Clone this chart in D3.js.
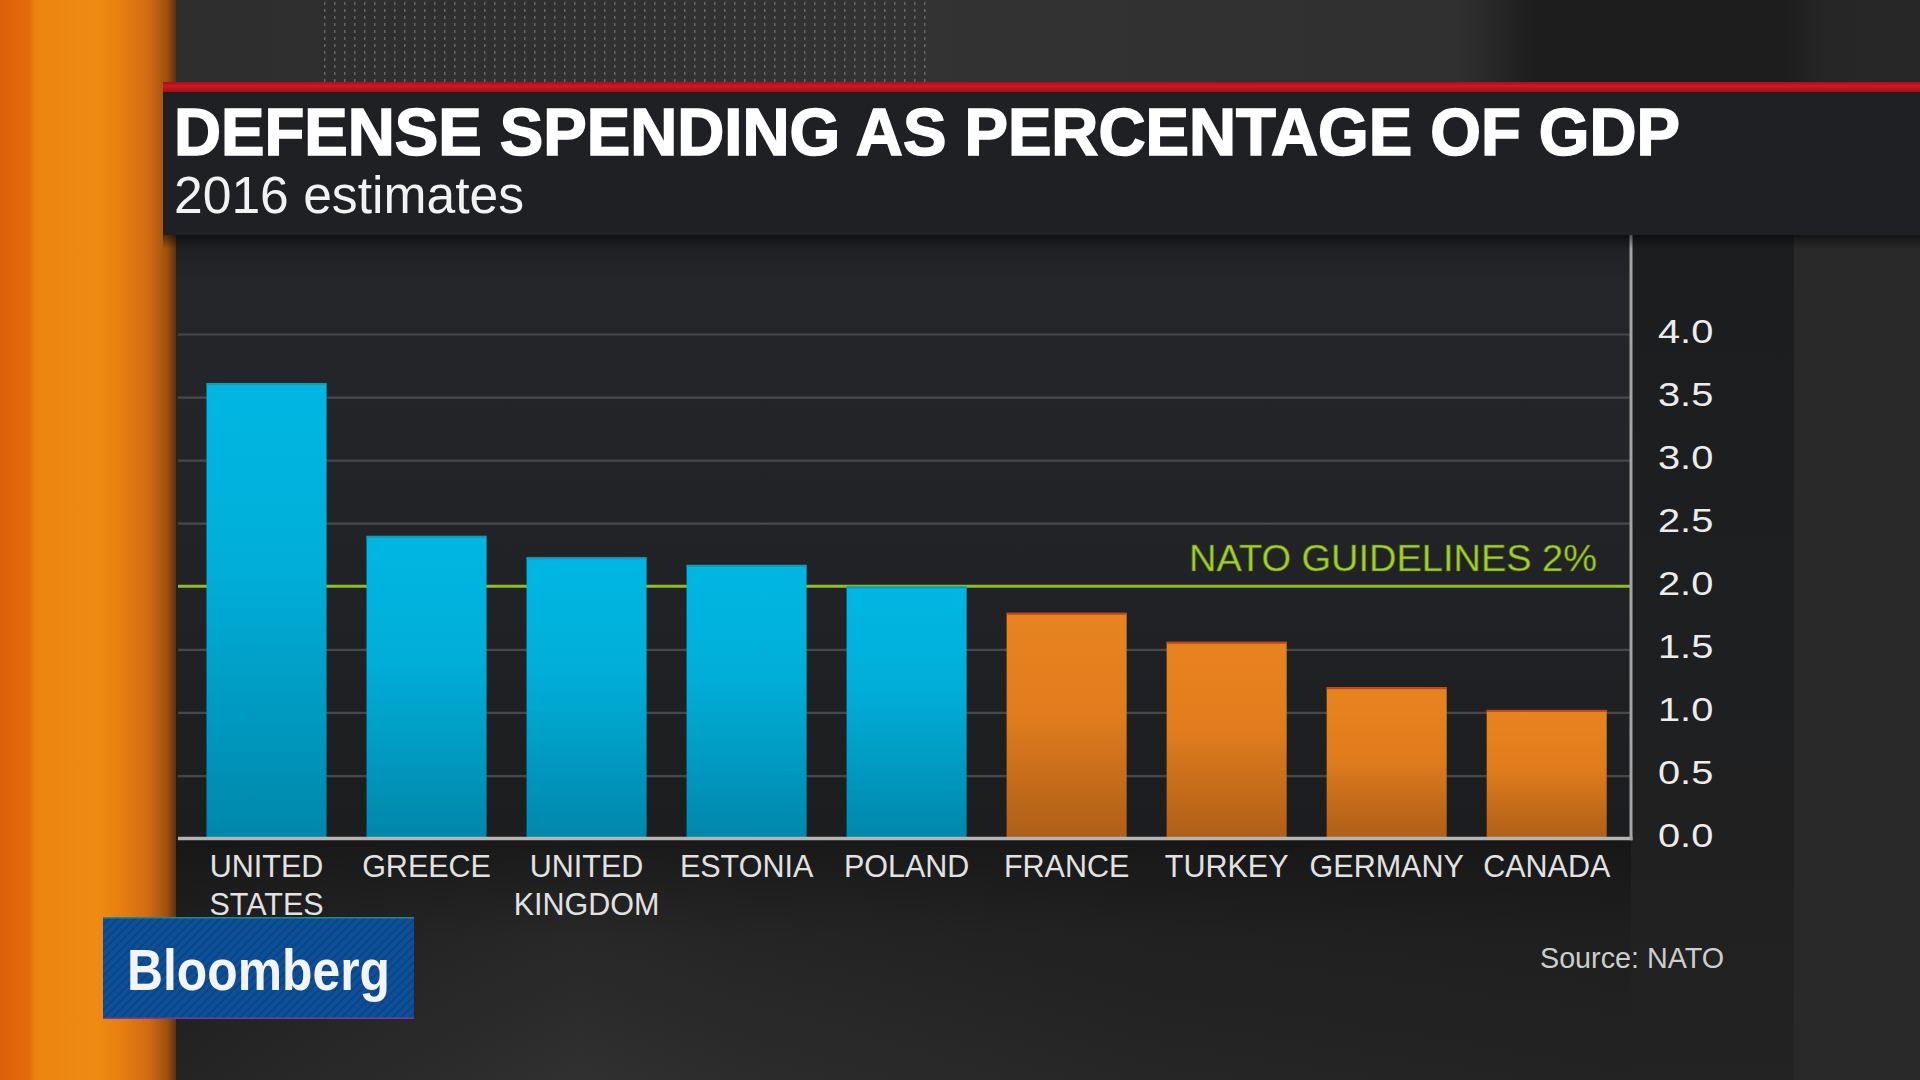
<!DOCTYPE html>
<html>
<head>
<meta charset="utf-8">
<script src="https://cdn.jsdelivr.net/npm/d3@7"></script>
<style>
  html, body { margin: 0; padding: 0; background: #252525; overflow: hidden; }
  svg { display: block; }
</style>
</head>
<body>
<svg id="chart" width="1920" height="1080"></svg>
<script>
// ---- data ----
const categories = ["UNITED STATES", "GREECE", "UNITED KINGDOM", "ESTONIA", "POLAND", "FRANCE", "TURKEY", "GERMANY", "CANADA"];
const values = [3.61, 2.40, 2.23, 2.17, 2.00, 1.79, 1.56, 1.20, 1.02];
const yTicks = [0, 0.5, 1.0, 1.5, 2.0, 2.5, 3.0, 3.5, 4.0];
const guideline = 2.0;
const guidelineLabel = "NATO GUIDELINES 2%";
const titleText = "DEFENSE SPENDING AS PERCENTAGE OF GDP";
const subtitleText = "2016 estimates";
const sourceText = "Source: NATO";
const logoText = "Bloomberg";

const data = categories.map((c, i) => ({ name: c, value: values[i] }));

const svg = d3.select("#chart");
const defs = svg.append("defs");

function lin(id, x1, y1, x2, y2, stops) {
  const g = defs.append("linearGradient").attr("id", id)
    .attr("x1", x1).attr("y1", y1).attr("x2", x2).attr("y2", y2);
  stops.forEach(s => g.append("stop").attr("offset", s[0]).attr("stop-color", s[1]));
}
lin("orangeStrip", 0, 0, 1, 0, [[0, "#dc5f0a"], [0.17, "#e56c0c"], [0.2, "#ec840f"], [0.55, "#ef8b12"], [0.7, "#e57d10"], [0.85, "#cf6a12"], [0.95, "#9c5010"], [1, "#5e300c"]]);
lin("topBg", 0, 0, 1, 0, [[0, "#2c2c2c"], [0.45, "#333333"], [0.76, "#303030"], [0.8, "#1d1d1d"], [0.93, "#1d1d1d"], [0.95, "#262626"], [1, "#272727"]]);
lin("panelBg", 0, 0, 0, 1, [[0, "#1e1f22"], [0.08, "#25262a"], [0.5, "#222326"], [1, "#1c1d1f"]]);
lin("tickBg", 0, 0, 0, 1, [[0, "#1c1d1f"], [0.5, "#1e1f21"], [0.75, "#202020"], [1, "#232323"]]);
lin("bottomBg", 0, 0, 1, 0, [[0, "#242424"], [0.15, "#2b2b2b"], [0.25, "#303030"], [0.35, "#2c2c2c"], [0.6, "#262626"], [1, "#222222"]]);
lin("bottomFade", 0, 0, 0, 1, [[0, "rgba(20,20,20,0.8)"], [0.4, "rgba(20,20,20,0.3)"], [1, "rgba(20,20,20,0)"]]);
lin("redBand", 0, 0, 0, 1, [[0, "#a80f18"], [0.4, "#cf1822"], [1, "#a30f17"]]);
lin("blueBar", 0, 0, 0, 1, [[0, "#00b6e2"], [0.4, "#00afd9"], [1, "#0087ab"]]);
lin("orangeBar", 0, 0, 0, 1, [[0, "#e8841f"], [0.45, "#e07c1d"], [1, "#ae5f18"]]);
lin("headerShadow", 0, 0, 0, 1, [[0, "rgba(0,0,0,0.5)"], [1, "rgba(0,0,0,0)"]]);

const dots = defs.append("pattern").attr("id", "dots").attr("patternUnits", "userSpaceOnUse")
  .attr("width", 10).attr("height", 7);
dots.append("rect").attr("x", 4).attr("y", 2).attr("width", 1.5).attr("height", 3).attr("fill", "rgba(200,200,200,0.35)");

const stripes = defs.append("pattern").attr("id", "stripes").attr("patternUnits", "userSpaceOnUse")
  .attr("width", 6).attr("height", 6).attr("patternTransform", "rotate(45)");
stripes.append("rect").attr("width", 6).attr("height", 6).attr("fill", "#0d5097");
stripes.append("rect").attr("width", 2).attr("height", 6).attr("fill", "#0a4486");

// ---- background ----
svg.append("rect").attr("width", 1920).attr("height", 1080).attr("fill", "#262626");
svg.append("rect").attr("x", 0).attr("y", 0).attr("width", 1920).attr("height", 84).attr("fill", "url(#topBg)");
svg.append("rect").attr("x", 322).attr("y", 0).attr("width", 607).attr("height", 82).attr("fill", "url(#dots)");
svg.append("rect").attr("x", 1794).attr("y", 235).attr("width", 126).attr("height", 845).attr("fill", "#292929");
svg.append("rect").attr("x", 175).attr("y", 840).attr("width", 1619).attr("height", 240).attr("fill", "url(#bottomBg)");
svg.append("rect").attr("x", 175).attr("y", 840).attr("width", 1619).attr("height", 240).attr("fill", "url(#bottomFade)");

// ---- scales ----
const x = d3.scaleBand().domain(categories).range([178, 1631])
  .paddingInner(0.25).paddingOuter(0.165).align(0.54);
const y = d3.scaleLinear().domain([0, 4]).range([838.6, 334]);
const [xLeft, xRight] = x.range();

// chart panel
svg.append("rect").attr("x", 175).attr("y", 235).attr("width", xRight - 175).attr("height", y(0) - 235).attr("fill", "url(#panelBg)");
svg.append("rect").attr("x", xRight).attr("y", 235).attr("width", 1794 - xRight).attr("height", 845).attr("fill", "url(#tickBg)");

// orange strip
svg.append("rect").attr("x", 0).attr("y", 0).attr("width", 176).attr("height", 1080).attr("fill", "url(#orangeStrip)");

// ---- gridlines ----
const grid = svg.append("g").attr("transform", `translate(${xRight},0)`)
  .call(d3.axisLeft(y).tickValues(yTicks.filter(t => t !== 0 && t !== guideline)).tickSize(xRight - xLeft).tickFormat(""));
grid.select(".domain").remove();
grid.selectAll(".tick line").attr("stroke", "#47484b").attr("stroke-width", 2.2);

// ---- guideline ----
svg.append("line").attr("x1", xLeft).attr("x2", xRight).attr("y1", y(guideline)).attr("y2", y(guideline))
  .attr("stroke", "#8fbe22").attr("stroke-width", 3);

// ---- bars ----
const bars = svg.append("g");
bars.selectAll("rect.bar").data(data).join("rect").attr("class", "bar")
  .attr("x", d => x(d.name)).attr("width", x.bandwidth())
  .attr("y", d => y(d.value)).attr("height", d => y(0) - y(d.value))
  .attr("fill", d => d.value >= guideline ? "url(#blueBar)" : "url(#orangeBar)");
bars.selectAll("rect.edge").data(data).join("rect").attr("class", "edge")
  .attr("x", d => x(d.name)).attr("width", x.bandwidth())
  .attr("y", d => y(d.value)).attr("height", 2)
  .attr("fill", d => d.value >= guideline ? "#139bb5" : "#c4451c");

// guideline label
svg.append("text").attr("x", 1597).attr("y", y(guideline) - 15.5)
  .attr("text-anchor", "end")
  .attr("font-family", "'Liberation Sans', Arial, sans-serif").attr("font-size", 36)
  .attr("textLength", 408).attr("lengthAdjust", "spacingAndGlyphs")
  .attr("fill", "#a2d12a").attr("stroke", "#4f6a12").attr("stroke-width", 0.6)
  .text(guidelineLabel);

// ---- x axis ----
const xAxis = svg.append("g").attr("transform", `translate(0,${y(0)})`)
  .call(d3.axisBottom(x).tickSize(0).tickSizeOuter(0).tickFormat(""));
xAxis.select(".domain").attr("stroke", "#b4b4b4").attr("stroke-width", 3.5)
  .attr("d", `M${xLeft},0H${xRight + 1.5}`);
xAxis.selectAll(".tick").each(function (d) {
  const words = d.split(" ");
  const t = d3.select(this).append("text")
    .attr("fill", "#e2e2e2").attr("text-anchor", "middle")
    .attr("font-family", "'Liberation Sans', Arial, sans-serif").attr("font-size", 30.5);
  words.forEach((w, i) => t.append("tspan").attr("x", 0).attr("y", 38.5 + i * 38).text(w));
});

// right axis line
svg.append("line").attr("x1", xRight).attr("x2", xRight).attr("y1", 235).attr("y2", y(0) + 1.75)
  .attr("stroke", "#a4a4a4").attr("stroke-width", 3);

// ---- y axis labels ----
const yAxis = svg.append("g").attr("transform", `translate(${xRight},0)`)
  .call(d3.axisRight(y).tickValues(yTicks).tickSize(0).tickFormat(d3.format(".1f")));
yAxis.select(".domain").remove();
yAxis.selectAll(".tick text")
  .attr("x", null).attr("dy", null).attr("y", 8)
  .attr("transform", "translate(27,0) scale(1.17,1)")
  .attr("text-anchor", "start")
  .attr("font-family", "'Liberation Sans', Arial, sans-serif").attr("font-size", 34)
  .attr("fill", "#ececec");

// ---- header ----
svg.append("rect").attr("x", 163).attr("y", 235).attr("width", 1757).attr("height", 14).attr("fill", "url(#headerShadow)");
svg.append("rect").attr("x", 163).attr("y", 91).attr("width", 1757).attr("height", 144).attr("fill", "#1f2024");
svg.append("rect").attr("x", 163).attr("y", 82).attr("width", 1757).attr("height", 10).attr("fill", "url(#redBand)");

svg.append("text").attr("x", 174).attr("y", 155)
  .attr("font-family", "'Liberation Sans', Arial, sans-serif").attr("font-weight", "bold").attr("font-size", 66)
  .attr("textLength", 1506).attr("lengthAdjust", "spacingAndGlyphs")
  .attr("fill", "#ffffff").attr("stroke", "#ffffff").attr("stroke-width", 1.6)
  .text(titleText);
svg.append("text").attr("x", 174).attr("y", 213)
  .attr("font-family", "'Liberation Sans', Arial, sans-serif").attr("font-size", 51)
  .attr("textLength", 350).attr("lengthAdjust", "spacingAndGlyphs")
  .attr("fill", "#f2f2f2")
  .text(subtitleText);

// ---- source ----
svg.append("text").attr("x", 1540).attr("y", 968)
  .attr("font-family", "'Liberation Sans', Arial, sans-serif").attr("font-size", 29)
  .attr("textLength", 184).attr("lengthAdjust", "spacingAndGlyphs")
  .attr("fill", "#cdcdcd")
  .text(sourceText);

// ---- logo ----
svg.append("rect").attr("x", 103).attr("y", 917).attr("width", 311).attr("height", 102).attr("fill", "url(#stripes)");
svg.append("rect").attr("x", 103).attr("y", 917).attr("width", 311).attr("height", 1.5).attr("fill", "#1f8a8a");
svg.append("rect").attr("x", 103).attr("y", 1017.5).attr("width", 311).attr("height", 1.5).attr("fill", "#7a3a9a");
svg.append("text").attr("x", 127).attr("y", 990)
  .attr("font-family", "'Liberation Sans', Arial, sans-serif").attr("font-weight", "bold").attr("font-size", 58)
  .attr("textLength", 263).attr("lengthAdjust", "spacingAndGlyphs")
  .attr("fill", "#f4f4f4")
  .text(logoText);
</script>
</body>
</html>
